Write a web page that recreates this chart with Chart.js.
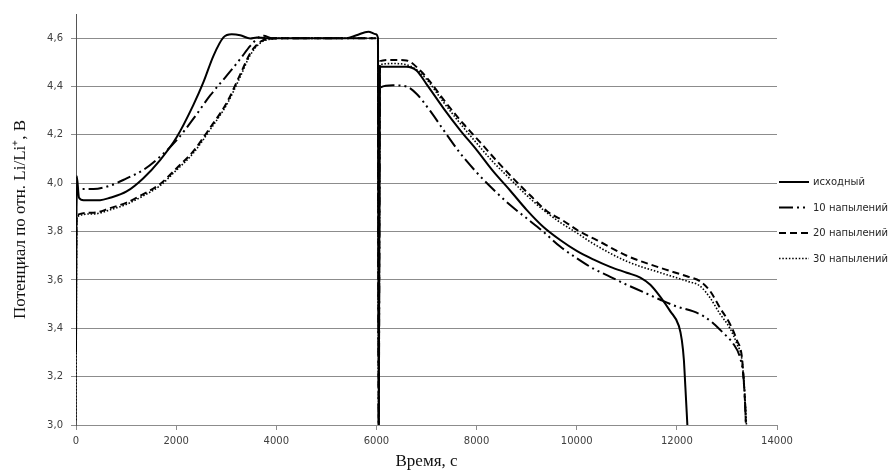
<!DOCTYPE html>
<html lang="ru">
<head>
<meta charset="UTF-8">
<title>Потенциал</title>
<script src="https://cdn.jsdelivr.net/npm/chart.js@4.4.0/dist/chart.umd.min.js"></script>
<style>
  html, body { margin: 0; padding: 0; background: #fff; }
  #wrap { position: relative; width: 888px; height: 472px; }
</style>
</head>
<body>
<div id="wrap"><canvas id="chart"></canvas></div>
<script>
// исходный
const tInit = [0, 15, 60, 150, 480, 680, 1010, 1340, 1680, 2010, 2340, 2545, 2745, 2945, 3110, 3280, 3480, 3610, 3800, 5400, 5600, 5840, 5990, 6030, 6045,
  6070, 6100, 6600, 6800, 7000, 7340, 7670, 8000, 8330, 8670, 9000, 9330, 9670, 10000, 10330, 10670, 11000, 11270, 11470, 11670, 11870, 12040, 12100, 12140, 12170, 12210];
const vInit = [3.30, 4.03, 3.94, 3.93, 3.93, 3.94, 3.966, 4.02, 4.096, 4.19, 4.322, 4.418, 4.527, 4.603, 4.616, 4.612, 4.599, 4.603, 4.6, 4.6, 4.612, 4.627, 4.616, 4.6, 3.0,
  4.48, 4.482, 4.482, 4.466, 4.41, 4.31, 4.22, 4.138, 4.05, 3.97, 3.89, 3.82, 3.765, 3.72, 3.685, 3.654, 3.63, 3.61, 3.58, 3.53, 3.47, 3.41, 3.35, 3.27, 3.157, 3.0];

// 10 напылений
const t10 = [0, 15, 350, 680, 1010, 1345, 1680, 2010, 2345, 2680, 3010, 3280, 3480, 3650, 3750, 3900, 6030, 6045,
  6070, 6330, 6600, 6800, 7070, 7340, 7670, 8000, 8330, 8670, 9000, 9330, 9670, 10000, 10330, 10670, 11000, 11330, 11670, 12000, 12330, 12530, 12730, 12930, 13130, 13260, 13330, 13360, 13380];
const v10 = [3.90, 3.975, 3.976, 3.99, 4.02, 4.055, 4.11, 4.178, 4.267, 4.363, 4.445, 4.514, 4.568, 4.603, 4.61, 4.6, 4.6, 3.0,
  4.395, 4.405, 4.40, 4.37, 4.30, 4.22, 4.125, 4.045, 3.975, 3.91, 3.855, 3.80, 3.738, 3.69, 3.647, 3.613, 3.58, 3.55, 3.518, 3.49, 3.47, 3.45, 3.42, 3.38, 3.335, 3.28, 3.2, 3.10, 3.0];

// 20 напылений
const t20 = [0, 15, 350, 680, 1010, 1345, 1680, 2010, 2345, 2680, 3010, 3280, 3480, 3680, 3880, 4210, 6030, 6045,
  6070, 6330, 6600, 6870, 7070, 7400, 7740, 8070, 8400, 8740, 9070, 9400, 9730, 10060, 10400, 11000, 11670, 12200, 12460, 12660, 12860, 13060, 13200, 13300, 13330, 13360, 13380];
const v20 = [3.60, 3.868, 3.878, 3.897, 3.92, 3.955, 3.997, 4.062, 4.133, 4.23, 4.333, 4.45, 4.538, 4.585, 4.598, 4.6, 4.6, 3.0,
  4.505, 4.51, 4.508, 4.467, 4.42, 4.33, 4.245, 4.17, 4.093, 4.018, 3.95, 3.885, 3.845, 3.80, 3.765, 3.70, 3.65, 3.615, 3.595, 3.555, 3.485, 3.418, 3.35, 3.28, 3.2, 3.1, 3.0];

// 30 напылений
const t30 = [0, 15, 350, 680, 1010, 1345, 1680, 2010, 2345, 2680, 3010, 3280, 3480, 3680, 3880, 4210, 6030, 6045,
  6070, 6330, 6600, 6800, 7000, 7340, 7670, 8000, 8330, 8670, 9000, 9330, 9670, 10000, 10330, 11000, 11670, 12200, 12460, 12660, 12860, 13060, 13200, 13300, 13340, 13370, 13390];
const v30 = [3.02, 3.862, 3.873, 3.89, 3.913, 3.948, 3.99, 4.055, 4.125, 4.222, 4.325, 4.44, 4.53, 4.58, 4.596, 4.6, 4.6, 3.0,
  4.49, 4.495, 4.49, 4.47, 4.43, 4.335, 4.248, 4.166, 4.088, 4.018, 3.95, 3.89, 3.838, 3.795, 3.75, 3.677, 3.63, 3.595, 3.575, 3.527, 3.46, 3.40, 3.335, 3.27, 3.18, 3.08, 3.0];

const seriesNames = ['исходный', '10 напылений', '20 напылений', '30 напылений'];
const xTicks = [0, 2000, 4000, 6000, 8000, 10000, 12000, 14000];
const yTicks = [3.0, 3.2, 3.4, 3.6, 3.8, 4.0, 4.2, 4.4, 4.6];

const gridColor = '#8c8c8c';
const tickFont = { family: 'DejaVu Sans', size: 10 };
const titleFont = { family: 'Liberation Serif', size: 17 };

function pts(ts, vs) {
    return ts.map((t, i) => ({ x: t, y: vs[i] }));
}

const styles = [
    { dash: [], width: 2 },
    { dash: [14, 4, 2, 4, 2, 4], width: 2 },
    { dash: [7, 4], width: 2 },
    { dash: [1.5, 1.8], width: 1.6 }
];

const allData = [pts(tInit, vInit), pts(t10, v10), pts(t20, v20), pts(t30, v30)];

// легенда справа, линиями
const lineLegend = {
    id: 'lineLegend',
    afterDraw(chart) {
        const ctx = chart.ctx;
        const ys = [182, 207.5, 233, 258.5];
        ctx.save();
        chart.data.datasets.forEach((ds, i) => {
            ctx.strokeStyle = '#000';
            ctx.lineWidth = ds.borderWidth;
            ctx.setLineDash(ds.borderDash || []);
            ctx.beginPath();
            ctx.moveTo(779, ys[i]);
            ctx.lineTo(809, ys[i]);
            ctx.stroke();
            ctx.setLineDash([]);
            ctx.fillStyle = '#262626';
            ctx.font = '10px "DejaVu Sans"';
            ctx.textBaseline = 'middle';
            ctx.textAlign = 'left';
            ctx.fillText(ds.label, 813, ys[i] + 0.5);
        });
        ctx.restore();
    }
};

new Chart(document.getElementById('chart'), {
    type: 'line',
    data: {
        datasets: allData.map((d, i) => ({
            label: seriesNames[i],
            data: d,
            borderColor: '#000',
            borderWidth: styles[i].width,
            borderDash: styles[i].dash,
            pointRadius: 0,
            fill: false,
            cubicInterpolationMode: 'monotone'
        }))
    },
    options: {
        responsive: true,
        maintainAspectRatio: false,
        animation: false,
        layout: { autoPadding: false, padding: { top: 11, right: 111, left: 0, bottom: 0 } },
        plugins: {
            legend: { display: false },
            tooltip: { enabled: false }
        },
        scales: {
            x: {
                type: 'linear',
                min: 0,
                max: 14000,
                afterFit: (s) => { s.height = 47; },
                afterBuildTicks: (s) => { s.ticks = xTicks.map(v => ({ value: v })); },
                ticks: {
                    color: '#404040',
                    font: tickFont,
                    padding: 5,
                    maxRotation: 0,
                    callback: (v) => String(v)
                },
                grid: {
                    drawOnChartArea: false,
                    drawTicks: true,
                    tickLength: 5,
                    color: gridColor
                },
                border: { color: gridColor },
                title: {
                    display: true,
                    text: 'Время, с',
                    color: '#111',
                    font: titleFont,
                    padding: { top: 1, bottom: 0 }
                }
            },
            y: {
                type: 'linear',
                min: 3.0,
                max: 4.7,
                afterFit: (s) => { s.width = 76; },
                afterBuildTicks: (s) => { s.ticks = yTicks.map(v => ({ value: v })); },
                ticks: {
                    color: '#404040',
                    font: tickFont,
                    padding: 8,
                    callback: (v) => v.toFixed(1).replace('.', ',')
                },
                grid: {
                    color: gridColor,
                    lineWidth: 1,
                    tickLength: 5
                },
                border: { color: '#555' },
                title: {
                    display: true,
                    text: 'Потенциал по отн. Li/Li⁺, В',
                    color: '#111',
                    font: titleFont,
                    padding: { top: 10, bottom: 0 }
                }
            }
        }
    },
    plugins: [lineLegend]
});
</script>
</body>
</html>
